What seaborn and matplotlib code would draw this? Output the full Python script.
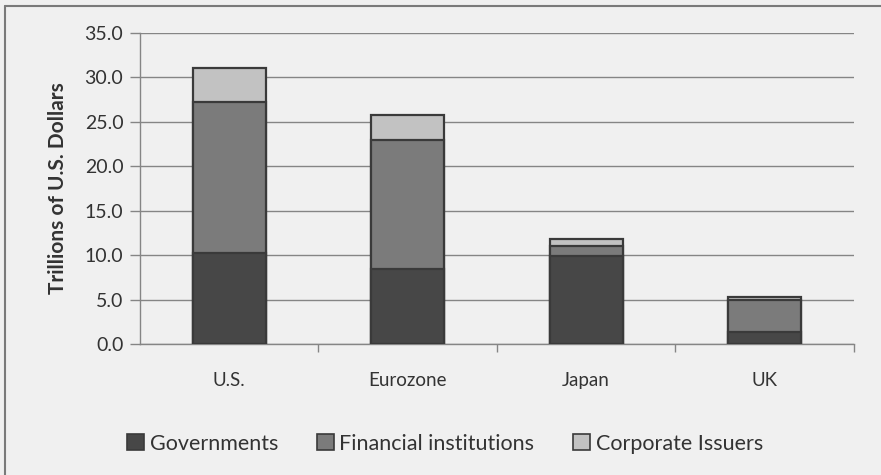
import matplotlib
matplotlib.use("Agg")
import matplotlib.pyplot as plt
from matplotlib.patches import Patch
from matplotlib.lines import Line2D
import numpy as np
import pandas as pd
import seaborn as sns

regions = ["U.S.", "Eurozone", "Japan", "UK"]
governments = [10.2, 8.4, 9.9, 1.4]
financial = [17.0, 14.6, 1.1, 3.6]
corporate = [3.9, 2.8, 0.8, 0.3]
series_names = ["Governments", "Financial institutions", "Corporate Issuers"]
yticks = [0.0, 5.0, 10.0, 15.0, 20.0, 25.0, 30.0, 35.0]

colors = ["#474747", "#7b7b7b", "#c2c2c2"]
edge = "#3a3a3a"
bg = "#f0f0f0"
text_c = "#333333"

sns.set_theme(style="white")
plt.rcParams["font.family"] = ["Lato", "DejaVu Sans"]

df = pd.DataFrame({"region": regions, "gov": governments,
                   "fin": financial, "corp": corporate})
df["gov_fin"] = df["gov"] + df["fin"]
df["total"] = df["gov_fin"] + df["corp"]

fig = plt.figure(figsize=(8.81, 4.75), dpi=100, facecolor=bg)
ax = fig.add_axes([0.1589, 0.2758, 0.8104, 0.6547], facecolor=bg)

# stacked bars: draw cumulative heights from tallest to shortest
for col, c in zip(["total", "gov_fin", "gov"], colors[::-1]):
    sns.barplot(data=df, x="region", y=col, color=c, width=0.41,
                edgecolor=edge, linewidth=1.6, saturation=1, ax=ax,
                zorder=3)

ax.set_ylim(0, 35)
ax.set_xlim(-0.5, 3.5)
ax.set_yticks(yticks)
ax.set_yticklabels([f"{v:.1f}" for v in yticks], fontsize=14, color=text_c)
ax.yaxis.grid(True, color="#858585", linewidth=1.0, zorder=0)
ax.set_axisbelow(True)

ax.set_xticks(range(len(regions)))
ax.set_xticklabels(regions, fontsize=13.5, color=text_c)
ax.set_xticks([0.5, 1.5, 2.5, 3.5], minor=True)
ax.tick_params(axis="x", which="major", length=0, pad=20)
ax.tick_params(axis="x", which="minor", length=6, width=1, color="#858585",
               direction="out", bottom=True)
ax.tick_params(axis="y", length=7, width=1, color="#858585",
               direction="out", left=True, pad=5)

ax.set_xlabel("")
ax.set_ylabel("Trillions of U.S. Dollars", fontsize=15, fontweight="bold",
              color=text_c, labelpad=12)

for s in ["top", "right"]:
    ax.spines[s].set_visible(False)
ax.spines["left"].set_color("#858585")
ax.spines["bottom"].set_color("#858585")
ax.spines["left"].set_linewidth(1)
ax.spines["bottom"].set_linewidth(1)

handles = [Patch(facecolor=c, edgecolor=edge, linewidth=1.2) for c in colors]
fig.legend(handles, series_names, loc="center left", ncol=3, frameon=False,
           bbox_to_anchor=(0.132, 0.066), fontsize=15.5, handlelength=0.8,
           handleheight=0.75, handletextpad=0.25, columnspacing=1.8,
           labelcolor=text_c, borderpad=0)

# outer frame around the chart (left and top edges fall inside the image)
fx, fy = 5 / 881, 1 - 6 / 475
fig.add_artist(Line2D([fx, fx], [0, fy], transform=fig.transFigure,
                      color="#7a7a7a", linewidth=1.5))
fig.add_artist(Line2D([fx, 1], [fy, fy], transform=fig.transFigure,
                      color="#7a7a7a", linewidth=1.5))

fig.savefig("out.png", dpi=100, facecolor=bg)
